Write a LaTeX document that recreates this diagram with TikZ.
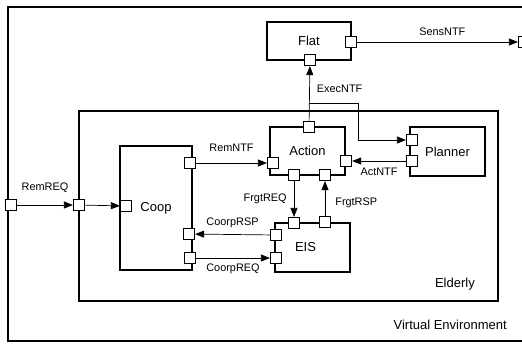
\documentclass[tikz,border=0pt]{standalone}
\usepackage{fontspec}
\setmainfont{Liberation Sans}
\usetikzlibrary{arrows.meta, positioning}

\begin{document}
\begin{tikzpicture}[
  x=1pt, y=-1pt,
  block/.style={rectangle, draw, line width=1.4pt, inner sep=0pt, font=\fontsize{13}{15}\selectfont},
  port/.style={rectangle, draw, line width=1.2pt, fill=white, minimum size=11pt, inner sep=0pt},
  txt/.style={font=\fontsize{13}{15}\selectfont, inner sep=0pt},
  lbl/.style={font=\fontsize{10.9}{12}\selectfont, inner sep=0pt},
  arr/.style={-{Triangle[length=9pt, width=7pt]}, line width=0.7pt},
]
\useasboundingbox (0,0) rectangle (522,343);

%% Environment and agent
\node[block, line width=1.8pt, minimum width=516pt, minimum height=334pt] (venv) at (266,174) {};
\node[block, line width=1.3pt, minimum width=419pt, minimum height=190pt] (elderly) at (288.5,206) {};
\node[txt, anchor=east] (venvtxt) at (507,325) {Virtual Environment};
\node[txt, anchor=east] (eldtxt) at (475,284) {Elderly};

%% Components
\node[block, minimum width=84pt, minimum height=38pt] (flat) at (309,41) {Flat};
\node[block, minimum width=75pt, minimum height=48pt] (action) at (307.5,151) {Action};
\node[block, minimum width=75pt, minimum height=49pt] (planner) at (447.5,151.5) {Planner};
\node[block, minimum width=72pt, minimum height=124pt] (coop) at (156,208) {Coop};
\node[block, minimum width=75pt, minimum height=49pt, label={[txt, xshift=-7pt]center:EIS}] (eis) at (312.5,247.5) {};

%% Ports
\node[port] (venvW) at (11,205) {};
\node[port] (venvE) at (524,42) {};
\node[port] (eldW) at (79,205) {};
\node[port] (coopW) at (126,206) {};
\node[port] (coopNE) at (190,163) {};
\node[port] (coopE1) at (189,234) {};
\node[port] (coopE2) at (190,258) {};
\node[port] (flatS) at (310,60) {};
\node[port] (flatE) at (351,42) {};
\node[port] (actW) at (273,163) {};
\node[port] (actN) at (309,127) {};
\node[port] (actE) at (346,161) {};
\node[port] (actS1) at (294,175) {};
\node[port] (actS2) at (325,175) {};
\node[port] (planW1) at (412,140) {};
\node[port] (planW2) at (412,161) {};
\node[port] (eisN1) at (294,223) {};
\node[port] (eisN2) at (325,222) {};
\node[port] (eisW1) at (276,235) {};
\node[port] (eisW2) at (276,258) {};

%% Connectors
\draw[arr] (venvW) -- (eldW) node[midway, above=12pt, lbl] {RemREQ};
\draw[arr] (eldW) -- (coopW);
\draw[arr] (coopNE) -- (actW) node[midway, above=11pt, lbl] {RemNTF};
\draw[arr] (actN) -- (flatS) node[pos=0.58, right=7pt, lbl] {ExecNTF};
\coordinate (split) at (309,103);
\coordinate (bend) at (358,103);
\draw[arr] (split) -- (bend) |- (planW1);
\draw[arr] (flatE) -- (venvE) node[pos=0.53, above=6pt, lbl] {SensNTF};
\draw[arr] (planW2) -- (actE) node[midway, below=7pt, lbl] {ActNTF};
\draw[arr] (actS1) -- (eisN1) node[midway, left=7pt, lbl] {FrgtREQ};
\draw[arr] (eisN2) -- (actS2) node[pos=0.38, right=10pt, lbl] {FrgtRSP};
\draw[arr] (eisW1) -- (coopE1) node[midway, above=6pt, lbl] {CoorpRSP};
\draw[arr] (coopE2) -- (eisW2) node[midway, below=6pt, lbl] {CoorpREQ};

\end{tikzpicture}
\end{document}
